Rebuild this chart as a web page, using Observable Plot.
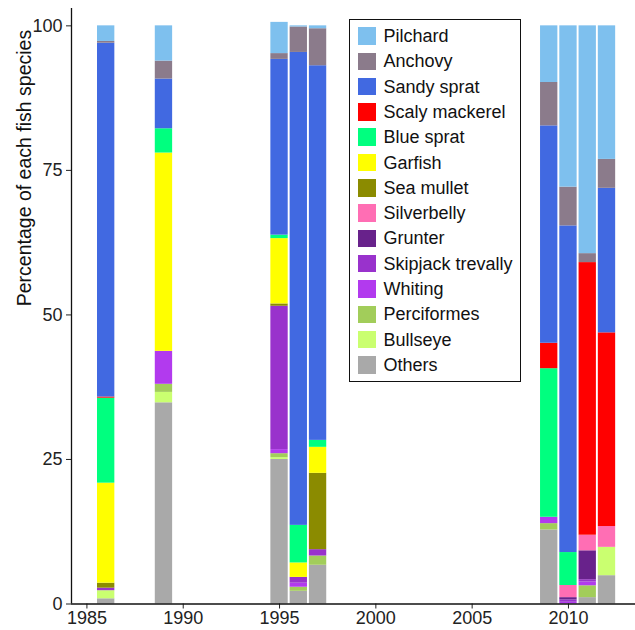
<!DOCTYPE html>
<html>
<head>
<meta charset="utf-8">
<script src="https://cdn.jsdelivr.net/npm/d3@7"></script>
<script src="https://cdn.jsdelivr.net/npm/@observablehq/plot@0.6"></script>
<style>
  html, body { margin: 0; padding: 0; background: #fff; }
  #wrap { position: relative; width: 635px; height: 630px; font-family: "Liberation Sans", Arial, sans-serif; }
  #legend { position: absolute; left: 349px; top: 19px; width: 172px; height: 363px; border: 1.2px solid #111; box-sizing: border-box; background: #fff; }
  .item { position: absolute; left: 8px; height: 18px; display: flex; align-items: center; }
  .sw { width: 17.5px; height: 17.5px; margin-right: 8px; flex: none; }
  .lab { font-size: 18px; color: #111; white-space: nowrap; line-height: 18px; }
</style>
</head>
<body>
<div id="wrap"><div id="chart"></div><div id="legend"></div></div>
<script>
const years = [1986, 1989, 1995, 1996, 1997, 2009, 2010, 2011, 2012];
// legend order (top of stack first)
const species = ["Pilchard", "Anchovy", "Sandy sprat", "Scaly mackerel", "Blue sprat", "Garfish", "Sea mullet", "Silverbelly", "Grunter", "Skipjack trevally", "Whiting", "Perciformes", "Bullseye", "Others"];
const colors = ["#7EC0EE", "#8B7B8B", "#4169E1", "#FF0000", "#00FF7F", "#FFFF00", "#8B8B00", "#FF6EB4", "#68228B", "#9932CC", "#B23AEE", "#A2CD5A", "#CAFF70", "#A9A9A9"];
const xTicks = [1985, 1990, 1995, 2000, 2005, 2010];
const yTicks = [0, 25, 50, 75, 100];

const pilchard      = [2.7, 6.1, 5.4, 0.2, 0.5, 9.8, 27.9, 39.4, 23.1];
const anchovy       = [0.3, 3.1, 1.0, 4.4, 6.4, 7.5, 6.7, 1.55, 5.0];
const sandySprat    = [61.2, 8.6, 30.4, 81.8, 64.8, 37.6, 56.5, 0, 25.0];
const scalyMackerel = [0.2, 0, 0, 0, 0, 4.4, 0, 47.15, 33.5];
const blueSprat     = [14.7, 4.2, 0.6, 6.5, 1.2, 25.7, 5.7, 0, 0];
const garfish       = [17.3, 34.3, 11.3, 2.5, 4.5, 0, 0, 0, 0];
const seaMullet     = [0.86, 0, 0.4, 0, 13.2, 0, 0, 0, 0];
const silverbelly   = [0, 0, 0, 0, 0, 0, 2.1, 2.7, 3.6];
const grunter       = [0, 0, 0, 0, 0, 0, 0.4, 5.0, 0];
const skipjack      = [0.44, 0, 24.8, 1.0, 1.1, 0, 0.4, 0.4, 0];
const whiting       = [0, 5.7, 0.7, 0.7, 0, 1.1, 0.3, 0.65, 0];
const perciformes   = [0, 1.4, 0.7, 0.7, 1.6, 1.1, 0, 2.05, 0];
const bullseye      = [1.4, 1.8, 0.3, 0, 0, 0, 0, 0, 4.9];
const others        = [0.9, 34.8, 25.0, 2.2, 6.7, 12.8, 0, 1.1, 4.9];

const series = [pilchard, anchovy, sandySprat, scalyMackerel, blueSprat, garfish, seaMullet, silverbelly, grunter, skipjack, whiting, perciformes, bullseye, others];

// build long table, bottom of stack first
const rows = [];
for (let s = species.length - 1; s >= 0; s--) {
  years.forEach((yr, i) => rows.push({year: yr, species: species[s], value: series[s][i]}));
}

const chart = Plot.plot({
  width: 635,
  height: 630,
  marginLeft: 71,
  marginRight: 0,
  marginTop: 8,
  marginBottom: 26.5,
  style: {fontFamily: "'Liberation Sans', Arial, sans-serif", background: "white"},
  x: {domain: [1984.2, 2013.48]},
  y: {domain: [0, 103]},
  color: {domain: species, range: colors},
  marks: [
    Plot.rectY(rows, {x1: d => d.year - 0.45, x2: d => d.year + 0.45, y: "value", fill: "species"}),
    Plot.axisX({ticks: xTicks, tickFormat: d => String(d), tickSize: 5, tickPadding: 2, fontSize: 18, label: null, color: "#222"}),
    Plot.axisY({ticks: yTicks, tickSize: 5, tickPadding: 4, fontSize: 18, label: null, color: "#222"}),
    Plot.ruleY([0], {stroke: "#111", strokeWidth: 1.3}),
    Plot.ruleX([1984.2], {stroke: "#111", strokeWidth: 1.3}),
    Plot.text(["Percentage of each fish species"], {frameAnchor: "left", dx: -47, rotate: -90, fontSize: 19.5, fill: "#111"})
  ]
});
document.getElementById("chart").appendChild(chart);

const legend = document.getElementById("legend");
species.forEach((s, i) => {
  const it = document.createElement("div");
  it.className = "item";
  it.style.top = (7 + i * 25.3) + "px";
  it.innerHTML = `<div class="sw" style="background:${colors[i]}"></div><div class="lab">${s}</div>`;
  legend.appendChild(it);
});
</script>
</body>
</html>
